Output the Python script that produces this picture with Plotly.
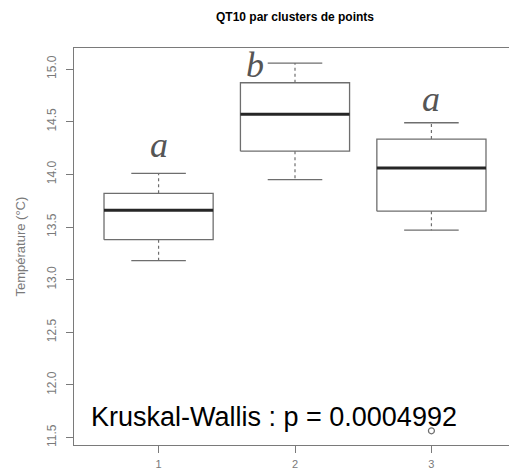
import plotly.graph_objects as go

# ---- data ----
clusters = [1, 2, 3]
tick_labels = ["1", "2", "3"]
lower_whisker = [13.18, 13.95, 13.47]
q1 = [13.38, 14.22, 13.65]
median = [13.66, 14.57, 14.06]
q3 = [13.82, 14.87, 14.335]
upper_whisker = [14.01, 15.057, 14.49]
outlier_x = [3]
outlier_y = [11.565]
letters = ["a", "b", "a"]
y_ticks = [11.5, 12.0, 12.5, 13.0, 13.5, 14.0, 14.5, 15.0]
title_text = "QT10 par clusters de points"
ylab = "Température (°C)"
kw_text = "Kruskal-Wallis : p = 0.0004992"

BOXW = 0.4      # half box width (boxwex 0.8)
CAPW = 0.2      # half staple width
BOX_COL = "#6e6e6e"
MED_COL = "#262626"
FRAME_COL = "#7a7a7a"
TXT_GRAY = "#7a7a7a"

fig = go.Figure()

for i, x in enumerate(clusters):
    fig.add_trace(go.Scatter(
        x=[x - BOXW, x + BOXW, x + BOXW, x - BOXW, x - BOXW],
        y=[q1[i], q1[i], q3[i], q3[i], q1[i]],
        mode="lines", line=dict(color=BOX_COL, width=1.3),
        fill="toself", fillcolor="white", showlegend=False, hoverinfo="skip"))
    fig.add_trace(go.Scatter(
        x=[x - BOXW, x + BOXW], y=[median[i], median[i]],
        mode="lines", line=dict(color=MED_COL, width=3),
        showlegend=False, hoverinfo="skip"))
    fig.add_trace(go.Scatter(
        x=[x, x, None, x, x],
        y=[q3[i], upper_whisker[i], None, q1[i], lower_whisker[i]],
        mode="lines", line=dict(color=BOX_COL, width=1.2, dash="3px,3px"),
        showlegend=False, hoverinfo="skip"))
    fig.add_trace(go.Scatter(
        x=[x - CAPW, x + CAPW, None, x - CAPW, x + CAPW],
        y=[upper_whisker[i], upper_whisker[i], None, lower_whisker[i], lower_whisker[i]],
        mode="lines", line=dict(color=BOX_COL, width=1.3),
        showlegend=False, hoverinfo="skip"))

fig.add_trace(go.Scatter(
    x=outlier_x, y=outlier_y, mode="markers",
    marker=dict(symbol="circle-open", size=6, color=BOX_COL, line=dict(width=1.2)),
    showlegend=False, hoverinfo="skip"))

# significance letters
letter_pos = [(1, 14.275), (1.71, 15.04), (3, 14.72)]
for (lx, ly), lt in zip(letter_pos, letters):
    fig.add_annotation(x=lx, y=ly, text=lt, showarrow=False,
                       xanchor="center", yanchor="middle",
                       font=dict(family="Liberation Serif, DejaVu Serif, serif",
                                 size=36, color="#555555", style="italic"))

# Kruskal-Wallis text
fig.add_annotation(x=0.034, xref="paper", y=11.70, yref="y", text=kw_text,
                   showarrow=False, xanchor="left", yanchor="middle",
                   font=dict(family="Liberation Sans, Arial, sans-serif", size=27, color="black"))

# y-axis title
fig.add_annotation(x=0, xref="paper", xshift=-54, y=0.5, yref="paper",
                   text=ylab, textangle=-90, showarrow=False,
                   xanchor="center", yanchor="middle",
                   font=dict(family="Liberation Sans, Arial, sans-serif", size=13, color=TXT_GRAY))

y_font = dict(family="Liberation Sans, Arial, sans-serif", size=12, color=TXT_GRAY)
x_font = dict(family="Liberation Sans, Arial, sans-serif", size=11, color=TXT_GRAY)
fig.update_layout(
    width=509, height=466,
    margin=dict(l=66, r=1, t=40, b=29, autoexpand=False),
    paper_bgcolor="white", plot_bgcolor="white",
    title=dict(text="<b>" + title_text + "</b>", x=(66 + 508) / 2 / 509, xanchor="center",
               y=1 - 9 / 466, yanchor="middle", automargin=False,
               font=dict(family="Liberation Sans, Arial, sans-serif", size=12, color="black")),
    xaxis=dict(range=[0.38, 3.62], tickmode="array", tickvals=clusters, ticktext=tick_labels,
               showgrid=False, zeroline=False, showline=True, mirror=True,
               linecolor=FRAME_COL, linewidth=1.4, automargin=False,
               ticks="outside", ticklen=7, tickcolor=FRAME_COL, tickwidth=1,
               ticklabelstandoff=2, tickfont=x_font),
    yaxis=dict(range=[11.43, 15.20], tickmode="array", tickvals=y_ticks,
               ticktext=[f"{v:.1f}" for v in y_ticks], tickangle=-90,
               showgrid=False, zeroline=False, showline=True, mirror=True,
               linecolor=FRAME_COL, linewidth=1.4, automargin=False,
               ticks="outside", ticklen=7, tickcolor=FRAME_COL, tickwidth=1,
               ticklabelstandoff=5, tickfont=y_font),
)

fig.write_html("out.html")
